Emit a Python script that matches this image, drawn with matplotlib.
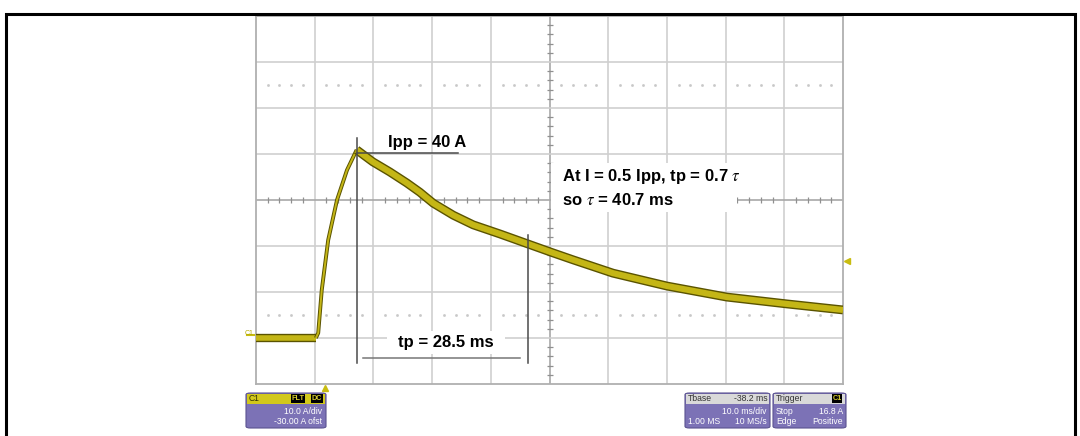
import matplotlib
matplotlib.use("Agg")
import matplotlib.pyplot as plt
import matplotlib.patheffects as pe
from matplotlib.patches import Rectangle, FancyBboxPatch

plt.rcParams['font.family'] = ['Liberation Sans', 'DejaVu Sans']
plt.rcParams['mathtext.fontset'] = 'stix'

# ---- data (time in ms from left edge, current in A)
time_ms = [0, 10.2, 10.6, 11.2, 12.3, 13.8, 15.5, 17.15, 19.9, 22.8, 25.7, 27.9,
           30.2, 33.6, 37.0, 41.6, 46.2, 50.6, 54.0, 60.8, 70.0, 80.2, 90.5, 100]
current_A = [0, 0, 1.1, 10.4, 21.3, 30.0, 36.5, 40.9, 38.3, 36.1, 33.7, 31.7,
             29.3, 26.7, 24.6, 22.6, 20.5, 18.5, 17.0, 14.1, 11.3, 8.9, 7.4, 6.1]
peak_idx = 7
rise_start_idx = 1

ipp_label = "Ipp = 40 A"
tp_label = "tp = 28.5 ms"
note_lines = [r"At I = 0.5 Ipp, tp = 0.7 $\tau$", r"so $\tau$ = 40.7 ms"]
peak_t, peak_i = 17.15, 40.2
tp_t = 46.3
trigger_t, trigger_level = 11.75, 16.8

W, H = 1080, 436
fig = plt.figure(figsize=(W / 100, H / 100), dpi=100)

# outer frame
frame = Rectangle((6 / W, -0.05), (1075 - 6) / W, 1 - 14 / H + 0.05,
                  transform=fig.transFigure, fill=False, ec='black', lw=2.2)
fig.add_artist(frame)

ax = fig.add_axes([256 / W, (H - 384) / H, 587 / W, 368 / H])
ax.set_xlim(0, 100)
ax.set_ylim(-10, 70)
ax.set_xticks([])
ax.set_yticks([])
for s in ax.spines.values():
    s.set_color('#b0b0b0')
    s.set_linewidth(1.3)

grid_c = '#cfcfcf'
for t in range(10, 100, 10):
    ax.axvline(t, color=grid_c if t != 50 else '#a8a8a8', lw=1.2, zorder=1)
for i in range(0, 70, 10):
    ax.axhline(i, color=grid_c if i != 30 else '#a8a8a8', lw=1.2, zorder=1)

# center cross minor ticks
tx = [x * 2 for x in range(1, 50) if x * 2 % 10 != 0]
ax.plot(tx, [30] * len(tx), ls='none', marker='|', ms=4, color='#909090', mew=0.9, zorder=1)
ty = [-10 + y * 2 for y in range(1, 40) if y * 2 % 10 != 0]
ax.plot([50] * len(ty), ty, ls='none', marker='_', ms=4, color='#909090', mew=0.9, zorder=1)
# dotted marker rows
dx = [x * 2 for x in range(1, 50) if x * 2 % 10 != 0]
for lvl in (5, 55):
    ax.plot(dx, [lvl] * len(dx), ls='none', marker='s', ms=0.9, color='#c8c8c8', zorder=1)

# trace
edge = '#5a5300'
fillc = '#c4b616'
def trace(x, y, lw, elw):
    ax.plot(x, y, color=fillc, lw=lw, solid_capstyle='butt', solid_joinstyle='round',
            zorder=4, path_effects=[pe.Stroke(linewidth=lw + elw, foreground=edge), pe.Normal()])

trace(time_ms[:rise_start_idx + 1], current_A[:rise_start_idx + 1], 4.0, 2.0)
trace(time_ms[rise_start_idx:peak_idx + 1], current_A[rise_start_idx:peak_idx + 1], 1.4, 1.4)
trace(time_ms[peak_idx:], current_A[peak_idx:], 4.4, 2.0)

# annotation lines
lc = '#4a4a4a'
ax.plot([peak_t, peak_t], [-5.4, 43.5], color=lc, lw=1.1, zorder=5)
ax.plot([peak_t, 34.4], [peak_i, peak_i], color=lc, lw=1.1, zorder=5)
ax.plot([tp_t, tp_t], [-5.4, 22.4], color=lc, lw=1.1, zorder=5)
ax.plot([18.2, 45.0], [-4.35, -4.35], color='#777777', lw=1.1, zorder=5)

# texts
ax.text(22.5, 42.6, ipp_label, fontsize=12, fontweight='bold', va='center', ha='left',
        zorder=6)
ax.add_patch(Rectangle((22.3, -3.4), 20.2, 5.0, fc='white', ec='none', zorder=5))
ax.text(32.4, -0.9, tp_label, fontsize=12, fontweight='bold', va='center', ha='center',
        zorder=6)
ax.add_patch(Rectangle((50.2, 27.4), 31.7, 10.6, fc='white', ec='none', zorder=5))
ax.text(52.1, 35.0, note_lines[0], fontsize=12, fontweight='bold', va='center', ha='left',
        zorder=6)
ax.text(52.1, 30.0, note_lines[1], fontsize=12, fontweight='bold', va='center', ha='left',
        zorder=6)

# markers
ax.plot(trigger_t, -10.9, marker='^', ms=5, color='#c8bc10', clip_on=False, zorder=6)
ax.plot(100.6, trigger_level, marker='<', ms=5, color='#c8bc10', clip_on=False, zorder=6)
ax.plot([-1.6, 0], [0.6, 0.6], color='#c8bc10', lw=1.5, clip_on=False)
fig.text(245 / W, 1 - 333 / H, "C1", fontsize=5, color='#b5aa00', va='center', ha='left')

# bottom info panels
purple = '#7c72b6'
def panel(x0, x1, y0, y1, hdr_color):
    w, h = (x1 - x0) / W, (y1 - y0) / H
    fig.add_artist(FancyBboxPatch((x0 / W, 1 - y1 / H), w, h, boxstyle='round,pad=0,rounding_size=0.004',
                                  transform=fig.transFigure, fc=purple, ec='#5a5290', lw=0.8))
    fig.add_artist(Rectangle((x0 / W + 0.001, 1 - 403.5 / H), w - 0.002, 10 / H,
                             transform=fig.transFigure, fc=hdr_color, ec='none'))

def ptext(x, y, s, ha='left', color='white', **kw):
    fig.text(x / W, 1 - y / H, s, fontsize=6.2, color=color, ha=ha, va='center', **kw)

def badge(x, y, s):
    fig.text(x / W, 1 - y / H, s, fontsize=5.2, color='#d8cc30', ha='center', va='center',
             fontweight='bold',
             bbox=dict(boxstyle='square,pad=0.12', fc='black', ec='none'))

panel(246, 326, 393, 428, '#d2c81c')
ptext(249, 398.5, "C1", color='#333300')
badge(298, 398.5, "FLT")
badge(317, 398.5, "DC")
ptext(322, 411, "10.0 A/div", ha='right')
ptext(322, 421.5, "-30.00 A ofst", ha='right')

panel(685, 770, 393, 428, '#d9d9d9')
ptext(688, 398.5, "Tbase", color='#333333')
ptext(768, 398.5, "-38.2 ms", ha='right', color='#333333')
ptext(767, 411, "10.0 ms/div", ha='right')
ptext(688, 421.5, "1.00 MS")
ptext(767, 421.5, "10 MS/s", ha='right')

panel(773, 846, 393, 428, '#d9d9d9')
ptext(776, 398.5, "Trigger", color='#333333')
badge(837, 398.5, "C1")
ptext(776, 411, "Stop")
ptext(843, 411, "16.8 A", ha='right')
ptext(776, 421.5, "Edge")
ptext(843, 421.5, "Positive", ha='right')

fig.savefig("out.png", dpi=100)
